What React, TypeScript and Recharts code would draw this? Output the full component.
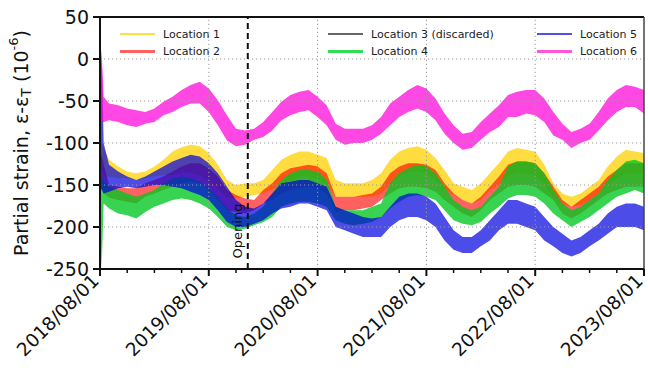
import React from 'react';
import { ComposedChart, Area, XAxis, YAxis, ReferenceLine } from 'recharts';

// x positions in months since 2018/08/01 (first three points hold the start-up spike)
const months = [
  0, 0.18, 0.4, 1, 2, 3, 4, 5, 6, 7, 8, 9, 10, 11, 12, 13, 14, 15, 16, 17, 18, 19, 20,
  21, 22, 23, 24, 25, 26, 27, 28, 29, 30, 31, 32, 33, 34, 35, 36, 37, 38, 39, 40,
  41, 42, 43, 44, 45, 46, 47, 48, 49, 50, 51, 52, 53, 54, 55, 56, 57, 58, 59, 60,
];

const loc1High = [
  -100, -100, -105, -120, -128, -134, -136, -134, -128, -120, -110, -105, -102, -104, -112, -126, -144, -150, -148, -148, -144, -132, -120,
  -114, -110, -110, -114, -118, -144, -148, -148, -148, -144, -136, -120, -110, -106, -104, -108, -118, -132, -148, -152,
  -156, -148, -136, -124, -110, -106, -108, -110, -126, -148, -160, -164, -160, -152, -144, -128, -116, -108, -110, -112,
];
const loc1Low = [
  -135, -135, -140, -140, -142, -142, -144, -142, -140, -138, -138, -135, -135, -138, -145, -155, -165, -166, -164, -162, -160, -155, -150,
  -145, -140, -140, -142, -150, -164, -164, -164, -164, -164, -160, -150, -140, -135, -133, -136, -145, -155, -162, -168,
  -172, -168, -156, -150, -140, -135, -136, -138, -150, -165, -172, -176, -174, -168, -160, -150, -142, -136, -136, -138,
];

const loc2High = [
  -115, -115, -125, -150, -152, -154, -154, -148, -144, -140, -134, -128, -124, -124, -130, -140, -156, -162, -166, -168, -156, -148, -136,
  -130, -128, -126, -128, -136, -164, -164, -164, -162, -160, -152, -136, -128, -124, -124, -126, -132, -148, -160, -168,
  -172, -164, -152, -140, -126, -122, -122, -124, -136, -152, -168, -176, -168, -160, -152, -140, -132, -124, -124, -124,
];
const loc2Low = [
  -155, -155, -160, -165, -168, -170, -172, -164, -160, -156, -152, -148, -146, -148, -156, -168, -180, -182, -184, -180, -172, -168, -160,
  -156, -154, -152, -154, -160, -182, -180, -180, -178, -176, -168, -160, -154, -152, -152, -154, -158, -168, -176, -184,
  -188, -180, -168, -160, -152, -150, -150, -152, -160, -168, -184, -190, -184, -176, -168, -160, -156, -152, -152, -152,
];

const loc4High = [
  -140, -140, -145, -152, -156, -160, -164, -160, -156, -148, -142, -140, -142, -146, -154, -164, -178, -186, -188, -184, -176, -160, -144,
  -136, -132, -132, -134, -144, -176, -180, -180, -180, -176, -172, -148, -136, -130, -126, -128, -136, -152, -168, -176,
  -180, -176, -164, -152, -128, -122, -122, -124, -136, -156, -172, -180, -176, -168, -160, -144, -132, -122, -120, -124,
];
const loc4Low = [
  -172, -250, -172, -178, -184, -186, -190, -182, -176, -172, -168, -166, -168, -172, -178, -188, -200, -204, -202, -198, -194, -188, -176,
  -172, -170, -170, -172, -176, -192, -196, -198, -196, -194, -188, -178, -170, -164, -162, -164, -168, -180, -192, -196,
  -198, -194, -184, -176, -166, -162, -162, -164, -172, -184, -192, -200, -194, -188, -180, -172, -164, -160, -156, -160,
];

const loc5High = [
  -100, 12, -100, -126, -134, -140, -144, -140, -134, -128, -122, -118, -114, -116, -124, -136, -152, -168, -176, -178, -172, -160, -148,
  -146, -144, -144, -148, -152, -176, -180, -184, -188, -190, -188, -176, -164, -160, -160, -164, -172, -188, -204, -212,
  -212, -204, -192, -180, -168, -168, -172, -176, -188, -200, -208, -216, -212, -204, -196, -184, -176, -172, -172, -176,
];
const loc5Low = [
  -155, -155, -160, -158, -154, -152, -154, -152, -150, -150, -152, -154, -158, -162, -168, -180, -194, -200, -200, -196, -192, -184, -178,
  -176, -172, -172, -176, -180, -200, -204, -208, -212, -212, -212, -200, -192, -188, -188, -192, -200, -216, -227, -231,
  -231, -223, -216, -204, -196, -196, -200, -204, -216, -223, -231, -235, -231, -223, -216, -208, -200, -200, -200, -204,
];

const loc6High = [
  -40, 10, -45, -53, -55, -59, -61, -63, -59, -51, -45, -37, -31, -27, -35, -49, -67, -83, -85, -83, -75, -63, -51,
  -43, -39, -37, -45, -55, -77, -83, -83, -83, -79, -69, -53, -45, -37, -31, -35, -47, -65, -79, -89,
  -87, -75, -65, -55, -43, -39, -37, -37, -47, -63, -77, -87, -83, -77, -63, -47, -37, -31, -33, -37,
];
const loc6Low = [
  -75, -75, -75, -73, -75, -79, -81, -77, -75, -67, -63, -57, -53, -53, -63, -79, -97, -104, -102, -96, -93, -85, -73,
  -67, -63, -61, -69, -79, -96, -102, -100, -100, -96, -89, -79, -69, -63, -59, -63, -73, -89, -100, -108,
  -106, -96, -87, -81, -69, -69, -65, -67, -75, -91, -96, -106, -100, -96, -85, -73, -63, -57, -57, -65,
];

const xTicks = [0, 3, 6, 9, 12, 15, 18, 21, 24, 27, 30, 33, 36, 39, 42, 45, 48, 51, 54, 57, 60];
const xMajor = [0, 12, 24, 36, 48, 60];
const xLabels = ['2018/08/01', '2019/08/01', '2020/08/01', '2021/08/01', '2022/08/01', '2023/08/01'];
const yTicks = [-250, -200, -150, -100, -50, 0, 50];
const yGrid = [-200, -150, -100, -50, 0];
const openingMonth = 16.3;

const series = [
  { key: 'loc1', name: 'Location 1', fill: '#ffd200', opacity: 0.75 },
  { key: 'loc2', name: 'Location 2', fill: '#ff0000', opacity: 0.62 },
  { key: 'loc4', name: 'Location 4', fill: '#00c820', opacity: 0.78 },
  { key: 'loc5', name: 'Location 5', fill: '#0000e0', opacity: 0.7 },
  { key: 'loc6', name: 'Location 6', fill: '#ff00d8', opacity: 0.72 },
];

const legendItems = [
  { name: 'Location 1', color: '#ffe040', x: 120, y: 34 },
  { name: 'Location 2', color: '#ff6060', x: 120, y: 51.5 },
  { name: 'Location 3 (discarded)', color: '#666666', x: 328, y: 34 },
  { name: 'Location 4', color: '#33dd55', x: 328, y: 51.5 },
  { name: 'Location 5', color: '#5050ee', x: 537, y: 34 },
  { name: 'Location 6', color: '#ff55dd', x: 537, y: 51.5 },
];

const data = months.map((m, k) => ({
  m,
  loc1: [loc1Low[k], loc1High[k]],
  loc2: [loc2Low[k], loc2High[k]],
  loc4: [loc4Low[k], loc4High[k]],
  loc5: [loc5Low[k], loc5High[k]],
  loc6: [loc6Low[k], loc6High[k]],
}));

const FONT = "'DejaVu Sans', sans-serif";

const XTick = ({ x, y, payload }: any) => {
  const idx = xMajor.indexOf(payload.value);
  const major = idx >= 0;
  const tx = x;
  const ty = y + 13;
  return (
    <g>
      <line x1={x} y1={y} x2={x} y2={y + (major ? 7 : 4)} stroke="#111" strokeWidth={major ? 2 : 1.5} />
      {major && (
        <text
          x={tx}
          y={ty}
          textAnchor="end"
          transform={`rotate(-45, ${tx}, ${ty})`}
          fontSize={18.5}
          fill="#111"
          fontFamily={FONT}
        >
          {xLabels[idx]}
        </text>
      )}
    </g>
  );
};

const YTick = ({ x, y, payload }: any) => (
  <g>
    <line x1={x} y1={y} x2={x - 7} y2={y} stroke="#111" strokeWidth={2} />
    <text x={x - 11} y={y} textAnchor="end" dominantBaseline="central" fontSize={19} fill="#111" fontFamily={FONT}>
      {payload.value}
    </text>
  </g>
);

const YLabel = () => (
  <text
    x={21}
    y={143}
    textAnchor="middle"
    dominantBaseline="central"
    transform="rotate(-90, 21, 143)"
    fontSize={19}
    fill="#111"
    fontFamily={FONT}
  >
    Partial strain, ε-ε
    <tspan dy={5} fontSize={14}>T</tspan>
    <tspan dy={-5}> (10</tspan>
    <tspan dy={-8} fontSize={13}>-6</tspan>
    <tspan dy={8}>)</tspan>
  </text>
);

const OpeningLabel = ({ viewBox }: any) => {
  const tx = viewBox.x - 10;
  const ty = viewBox.y + viewBox.height - 38;
  return (
    <text
      x={tx}
      y={ty}
      textAnchor="middle"
      dominantBaseline="central"
      transform={`rotate(-90, ${tx}, ${ty})`}
      fontSize={13}
      fill="#111"
      fontFamily={FONT}
    >
      Opening
    </text>
  );
};

export default function App() {
  return (
    <div style={{ position: 'absolute', left: 0, top: 0, width: 648, height: 370, background: '#fff' }}>
      <ComposedChart width={648} height={370} data={data} margin={{ top: 17, right: 4, bottom: 0, left: 0 }}>
        <XAxis
          dataKey="m"
          type="number"
          domain={[0, 60]}
          ticks={xTicks}
          interval={0}
          tickSize={0}
          tickMargin={0}
          tickLine={false}
          tick={<XTick />}
          height={101}
          axisLine={{ stroke: '#111', strokeWidth: 2 }}
        />
        <YAxis
          type="number"
          domain={[-250, 50]}
          ticks={yTicks}
          interval={0}
          tickSize={0}
          tickMargin={0}
          tickLine={false}
          tick={<YTick />}
          width={100}
          axisLine={{ stroke: '#111', strokeWidth: 2 }}
          label={<YLabel />}
        />
        {series.map((s) => (
          <Area
            key={s.key}
            dataKey={s.key}
            name={s.name}
            type="linear"
            stroke="none"
            fill={s.fill}
            fillOpacity={s.opacity}
            isAnimationActive={false}
          />
        ))}
        {yGrid.map((v) => (
          <ReferenceLine key={`y${v}`} y={v} stroke="#999" strokeDasharray="1.2 2.8" strokeWidth={1} />
        ))}
        {xMajor.slice(1, -1).map((v) => (
          <ReferenceLine key={`x${v}`} x={v} stroke="#999" strokeDasharray="1.2 2.8" strokeWidth={1} />
        ))}
        <ReferenceLine y={50} stroke="#111" strokeWidth={2} />
        <ReferenceLine x={60} stroke="#444" strokeWidth={1.5} />
        <ReferenceLine x={openingMonth} stroke="#111" strokeWidth={2} strokeDasharray="6 4" label={<OpeningLabel />} />
      </ComposedChart>
      {legendItems.map((it) => (
        <div
          key={it.name}
          style={{
            position: 'absolute',
            left: it.x,
            top: it.y - 8,
            height: 16,
            display: 'flex',
            alignItems: 'center',
            fontFamily: FONT,
            fontSize: 11,
            color: '#222',
            whiteSpace: 'nowrap',
          }}
        >
          <span style={{ display: 'inline-block', width: 35, height: 2.5, background: it.color, marginRight: 8 }} />
          {it.name}
        </div>
      ))}
    </div>
  );
}
